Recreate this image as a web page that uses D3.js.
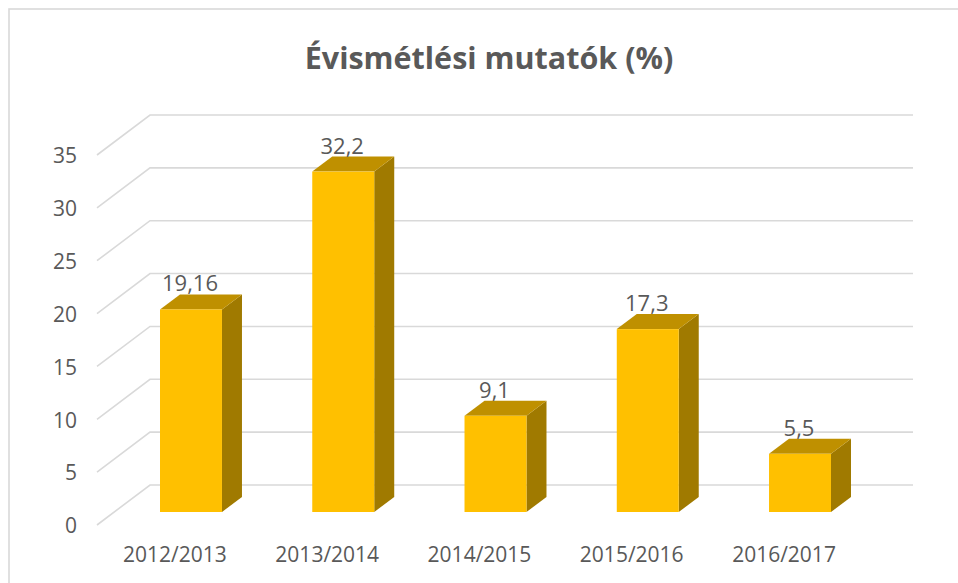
<!DOCTYPE html>
<html lang="hu">
<head>
    <meta charset="UTF-8">
    <title>Évismétlési mutatók (%)</title>
    <script src="https://cdnjs.cloudflare.com/ajax/libs/d3/7.8.5/d3.min.js"></script>
    <style>
        body {
            margin: 0;
            background: #ffffff;
            font-family: 'Open Sans', sans-serif;
            overflow: hidden;
        }
        .grid {
            stroke: #d9d9d9;
            stroke-width: 1.6px;
            fill: none;
        }
        .tick-label, .cat-label, .value-label {
            fill: #595959;
        }
    </style>
</head>
<body>
    <div id="chart"></div>
    <script>
        const categories = ["2012/2013", "2013/2014", "2014/2015", "2015/2016", "2016/2017"];
        const values = [19.16, 32.2, 9.1, 17.3, 5.5];
        const valueLabels = ["19,16", "32,2", "9,1", "17,3", "5,5"];
        const ticks = [0, 5, 10, 15, 20, 25, 30, 35];

        const width = 958;
        const height = 583;

        // oblique offsets of the 3D look
        const wall = {left: 150, right: 913, dx: -53, dy: 40};
        const depth = {dx: 20, dy: -15};

        const svg = d3.select("#chart")
            .append("svg")
            .attr("width", width)
            .attr("height", height);

        // chart border (runs off the right/bottom edge in the original)
        svg.append("rect")
            .attr("x", 9)
            .attr("y", 9)
            .attr("width", 1000)
            .attr("height", 1000)
            .attr("fill", "none")
            .attr("stroke", "#d9d9d9")
            .attr("stroke-width", 1.6);

        svg.append("text")
            .attr("x", 489)
            .attr("y", 69)
            .attr("text-anchor", "middle")
            .style("font-size", "30.5px")
            .style("font-weight", "bold")
            .style("fill", "#595959")
            .text("Évismétlési mutatók (%)");

        const yBack = d3.scaleLinear().domain([0, 35]).range([485, 115]);
        const yBar = d3.scaleLinear().domain([0, 35]).range([512, 142]);

        const x = d3.scaleBand()
            .domain(categories)
            .range([160, 831])
            .paddingInner(0.593)
            .paddingOuter(0);

        // back wall gridlines + side wall diagonals
        svg.selectAll(".gridline")
            .data(ticks)
            .enter().append("path")
            .attr("class", "grid")
            .attr("d", d => {
                const y = yBack(d);
                return `M${wall.right},${y}H${wall.left}L${wall.left + wall.dx},${y + wall.dy}`;
            });

        svg.selectAll(".tick-label")
            .data(ticks)
            .enter().append("text")
            .attr("class", "tick-label")
            .attr("x", 77)
            .attr("y", d => yBack(d) + wall.dy + 1)
            .attr("dy", "0.35em")
            .attr("text-anchor", "end")
            .style("font-size", "21px")
            .text(d => d);

        const bars = svg.selectAll(".bar")
            .data(values)
            .enter().append("g")
            .attr("class", "bar");

        // right side face
        bars.append("path")
            .attr("fill", "#a07a00")
            .attr("d", (d, i) => {
                const xr = x(categories[i]) + x.bandwidth();
                const y0 = yBar(0), y1 = yBar(d);
                return `M${xr},${y1}l${depth.dx},${depth.dy}V${y0 + depth.dy}L${xr},${y0}Z`;
            });

        // top face
        bars.append("path")
            .attr("fill", "#bf9000")
            .attr("d", (d, i) => {
                const xl = x(categories[i]);
                const y1 = yBar(d);
                return `M${xl},${y1}l${depth.dx},${depth.dy}h${x.bandwidth()}l${-depth.dx},${-depth.dy}Z`;
            });

        // front face
        bars.append("rect")
            .attr("fill", "#ffc000")
            .attr("x", (d, i) => x(categories[i]))
            .attr("y", d => yBar(d))
            .attr("width", x.bandwidth())
            .attr("height", d => yBar(0) - yBar(d));

        bars.append("text")
            .attr("class", "value-label")
            .attr("x", (d, i) => x(categories[i]) + x.bandwidth() / 2 - 1)
            .attr("y", d => yBar(d) - 18)
            .attr("text-anchor", "middle")
            .style("font-size", "22px")
            .text((d, i) => valueLabels[i]);

        svg.selectAll(".cat-label")
            .data(categories)
            .enter().append("text")
            .attr("class", "cat-label")
            .attr("x", d => x(d) + x.bandwidth() / 2 - 16)
            .attr("y", 555)
            .attr("dy", "0.35em")
            .attr("text-anchor", "middle")
            .style("font-size", "21px")
            .text(d => d);
    </script>
</body>
</html>
